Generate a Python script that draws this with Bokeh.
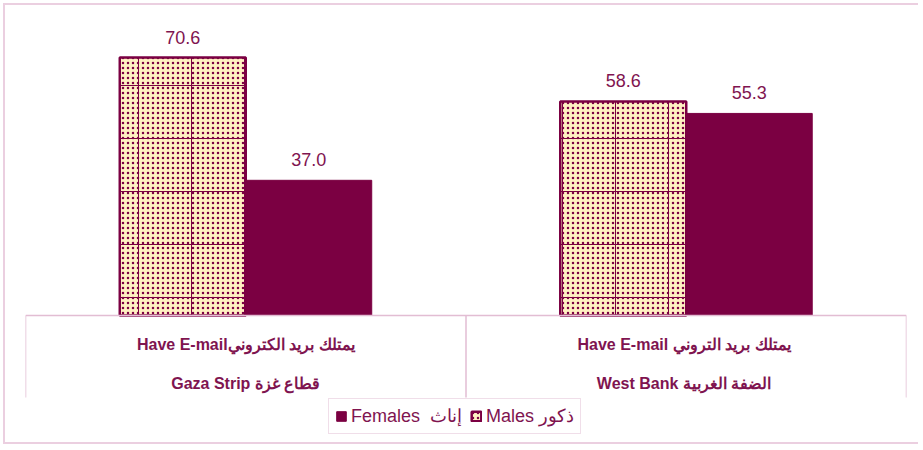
from bokeh.plotting import figure
from bokeh.models import FactorRange, Range1d, Legend, LegendItem, ColumnDataSource, Span
from bokeh.transform import dodge
from bokeh.core.properties import value
from bokeh.embed import file_html
from bokeh.resources import INLINE

# ---- data ----
groups = ["Gaza Strip", "West Bank"]
label_line1 = ["Have E-mailيمتلك بريد الكتروني", "Have E-mail  يمتلك بريد التروني"]
label_line2 = ["Gaza Strip قطاع غزة", "West Bank  الضفة الغربية"]
males = [70.6, 58.6]
females = [37.0, 55.3]
males_label = "Males ذكور"
females_label = "Females  إناث"

MAROON = "#7B0042"
TEXT = "#7F1450"
CREAM = "#FFF0C2"
PINK = "#E2BDD3"
FRAME_PINK = "#EBCFE0"

src = ColumnDataSource(dict(
    groups=groups, males=males, females=females,
    males_txt=[f"{v:.1f}" for v in males],
    females_txt=[f"{v:.1f}" for v in females],
    l1=label_line1, l2=label_line2,
))

PX_PER_UNIT = 3.654

p = figure(x_range=FactorRange(*groups, range_padding=0, factor_padding=0),
           y_range=Range1d(-131 / PX_PER_UNIT, 310 / PX_PER_UNIT),
           width=915, height=441, output_backend="svg", toolbar_location=None,
           x_axis_location=None, y_axis_location=None,
           min_border_left=20, min_border_right=14, min_border_top=0, min_border_bottom=0,
           styles={"margin-left": "3px", "margin-top": "3px",
                   "border-left": f"2px solid {FRAME_PINK}",
                   "border-top": f"2px solid {FRAME_PINK}",
                   "border-bottom": f"2px solid {FRAME_PINK}",
                   "border-right": "none"})
p.grid.visible = False
p.outline_line_color = None

bw = 0.286
off = bw / 2

rm = p.vbar(x=dodge("groups", -off, range=p.x_range), top="males", width=bw, source=src,
            fill_color=CREAM, hatch_pattern="dot", hatch_color=MAROON, hatch_scale=5,
            hatch_weight=2.5, line_color=MAROON, line_width=2.5)
rmg = p.vbar(x=dodge("groups", -off, range=p.x_range), top="males", width=bw, source=src,
             fill_color=None, hatch_pattern="+", hatch_color=MAROON, hatch_scale=53,
             hatch_weight=1, line_color=None)
rf = p.vbar(x=dodge("groups", off, range=p.x_range), top="females", width=bw, source=src,
            fill_color=MAROON, line_color=MAROON, line_width=1)

# value labels
p.text(x=dodge("groups", -off, range=p.x_range), y="males", text="males_txt", source=src,
       text_font=value("Liberation Sans"), text_font_size="18px", text_color=TEXT,
       text_align="center", text_baseline="bottom", y_offset=-14)
p.text(x=dodge("groups", off, range=p.x_range), y="females", text="females_txt", source=src,
       text_font=value("Liberation Sans"), text_font_size="18px", text_color=TEXT,
       text_align="center", text_baseline="bottom", y_offset=-14)

# baseline and category separators
p.add_layout(Span(location=0, dimension="width", line_color=PINK, line_width=1.5))
bounds = list(range(len(groups) + 1))
sep_bottom = -82 / PX_PER_UNIT
p.segment(x0=bounds, y0=[0] * len(bounds), x1=bounds, y1=[sep_bottom] * len(bounds),
          line_color=PINK, line_width=1.5)

# category labels
p.text(x="groups", y=0, text="l1", source=src, y_offset=29,
       text_font=value("Liberation Sans"), text_font_style="bold", text_font_size="16px",
       text_color=TEXT, text_align="center", text_baseline="middle")
p.text(x="groups", y=0, text="l2", source=src, y_offset=68,
       text_font=value("Liberation Sans"), text_font_style="bold", text_font_size="16px",
       text_color=TEXT, text_align="center", text_baseline="middle")

legend = Legend(items=[LegendItem(label=females_label, renderers=[rf]),
                       LegendItem(label=males_label, renderers=[rm])],
                orientation="horizontal", location=(303, 12),
                border_line_color=PINK, border_line_width=1.5,
                label_text_font="Liberation Sans", label_text_font_size="18px",
                label_text_color=TEXT, glyph_width=12, glyph_height=12,
                padding=6, spacing=8, label_standoff=4, margin=0,
                label_height=18)
p.add_layout(legend)

open("out.html", "w").write(file_html(p, INLINE))
